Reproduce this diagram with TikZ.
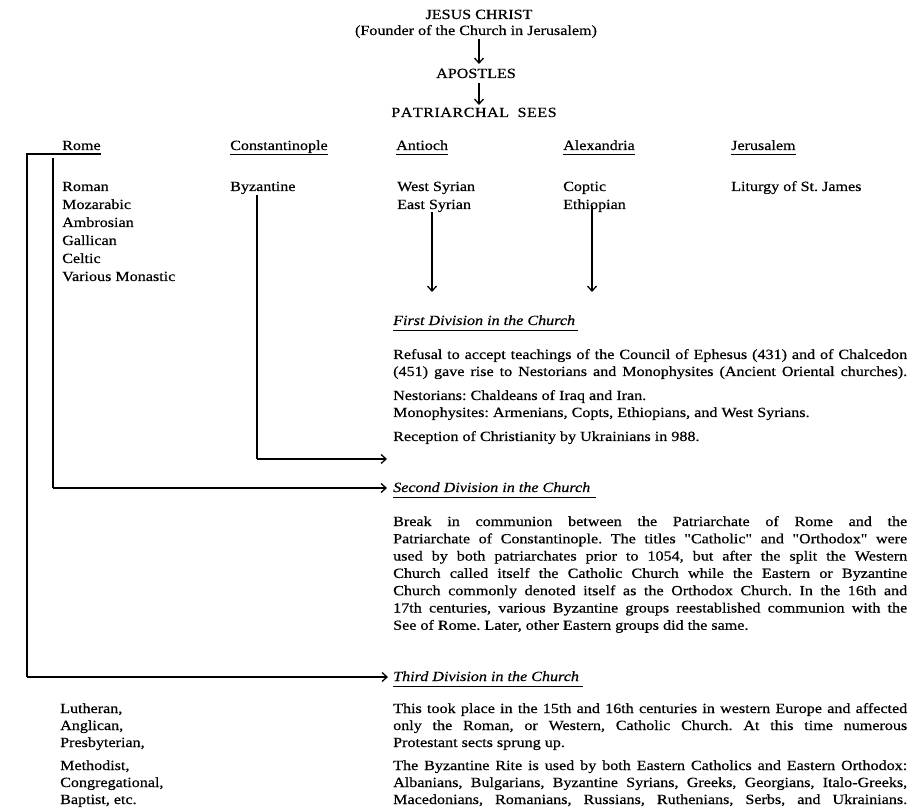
\documentclass[tikz,border=0pt]{standalone}
\usepackage{fontspec}
\setmainfont{Liberation Serif}[FakeStretch=1.15, FakeBold=0.5, Ligatures=TeXOff]
\usetikzlibrary{arrows.meta}
\tikzset{
  txt/.style={anchor=base west, inner sep=0pt, font=\fontsize{14}{17}\selectfont},
  ctr/.style={anchor=base, inner sep=0pt, font=\fontsize{14}{17}\selectfont},
  ttl/.style={txt, font=\fontsize{14}{17}\selectfont\itshape},
  conn/.style={line width=1.3pt},
  arr/.style={conn, -{Straight Barb[length=5pt,width=9pt]}},
  uline/.style={line width=0.9pt},
}
\newcommand{\jl}[1]{\makebox[514pt][s]{#1}}
\frenchspacing
\begin{document}
\begin{tikzpicture}[x=1pt,y=-1pt]
\frenchspacing
\useasboundingbox[fill=white] (0,0) rectangle (914,810);
% top
\node[ctr] (jc) at (479,19) {JESUS CHRIST};
\node[ctr] (founder) at (476,35) {(Founder of the Church in Jerusalem)};
\node[ctr] (ap) at (476,78) {APOSTLES};
\node[ctr] (ps) at (474,117) {P\kern0.5pt A\kern0.5pt T\kern0.5pt R\kern0.5pt I\kern0.5pt A\kern0.5pt R\kern0.5pt C\kern0.5pt H\kern0.5pt A\kern0.5pt L\kern0.5pt\ \ S\kern0.5pt E\kern0.5pt E\kern0.5pt S};
\coordinate (a1s) at (479,39);
\coordinate (a1e) at (479,64);
\coordinate (a2s) at (479,83);
\coordinate (a2e) at (479,105);
\draw[arr] (a1s) -- (a1e);
\draw[arr] (a2s) -- (a2e);
% headers
\node[txt] (hRome) at (62,150) {Rome};
\node[txt] (hConst) at (230,150) {Constantinople};
\node[txt] (hAnt) at (396,150) {Antioch};
\node[txt] (hAlex) at (563,150) {Alexandria};
\node[txt] (hJer) at (731,150) {Jerusalem};
\foreach \n in {hConst,hAnt,hAlex,hJer}
  \draw[uline] ([yshift=-4pt]\n.base west) -- ([yshift=-4pt]\n.base east);
% Rome list
\node[txt] (roman) at (62,191) {Roman};
\node[txt] (moz) at (62,209) {Mozarabic};
\node[txt] (amb) at (62,227) {Ambrosian};
\node[txt] (gal) at (62,245) {Gallican};
\node[txt] (cel) at (62,263) {Celtic};
\node[txt] (mon) at (62,281) {Various Monastic};
\node[txt] (byz) at (230,191) {Byzantine};
\node[txt] (wsyr) at (397,191) {West Syrian};
\node[txt] (esyr) at (397,209) {East Syrian};
\node[txt] (coptic) at (563,191) {Coptic};
\node[txt] (eth) at (563,209) {Ethiopian};
\node[txt] (stj) at (731,191) {Liturgy of St. James};
% first division
\node[ttl] (div1) at (393,325) {First Division in the Church};
\draw[uline] ([yshift=-5pt]div1.base west) -- ([yshift=-5pt,xshift=3pt]div1.base east);
\node[txt] (p1a) at (393,359) {\jl{Refusal to accept teachings of the Council of Ephesus (431) and of Chalcedon}};
\node[txt] (p1b) at (393,376) {\jl{(451) gave rise to Nestorians and Monophysites (Ancient Oriental churches).}};
\node[txt] (p2a) at (393,400) {Nestorians: Chaldeans of Iraq and Iran.};
\node[txt] (p2b) at (393,417) {Monophysites: Armenians, Copts, Ethiopians, and West Syrians.};
\node[txt] (p3) at (393,441) {Reception of Christianity by Ukrainians in 988.};
% second division
\node[ttl] (div2) at (393,492) {Second Division in the Church};
\draw[uline] ([yshift=-5pt]div2.base west) -- ([yshift=-5pt,xshift=6pt]div2.base east);
\node[txt] (q1) at (393,526) {\jl{Break in communion between the Patriarchate of Rome and the}};
\node[txt] (q2) at (393,543.3) {\jl{Patriarchate of Constantinople. The titles "Catholic" and "Orthodox" were}};
\node[txt] (q3) at (393,560.6) {\jl{used by both patriarchates prior to 1054, but after the split the Western}};
\node[txt] (q4) at (393,577.9) {\jl{Church called itself the Catholic Church while the Eastern or Byzantine}};
\node[txt] (q5) at (393,595.2) {\jl{Church commonly denoted itself as the Orthodox Church. In the 16th and}};
\node[txt] (q6) at (393,612.5) {\jl{17th centuries, various Byzantine groups reestablished communion with the}};
\node[txt] (q7) at (393,629.8) {See of Rome. Later, other Eastern groups did the same.};
% third division
\node[ttl] (div3) at (393,681) {Third Division in the Church};
\draw[uline] ([yshift=-5pt]div3.base west) -- ([yshift=-5pt,xshift=4pt]div3.base east);
\node[txt] (r1) at (393,713) {\jl{This took place in the 15th and 16th centuries in western Europe and affected}};
\node[txt] (r2) at (393,730) {\jl{only the Roman, or Western, Catholic Church. At this time numerous}};
\node[txt] (r3) at (393,747) {Protestant sects sprung up.};
\node[txt] (s1) at (393,770) {\jl{The Byzantine Rite is used by both Eastern Catholics and Eastern Orthodox:}};
\node[txt] (s2) at (393,787) {\jl{Albanians, Bulgarians, Byzantine Syrians, Greeks, Georgians, Italo-Greeks,}};
\node[txt] (s3) at (393,804) {\jl{Macedonians, Romanians, Russians, Ruthenians, Serbs, and Ukrainians.}};
% protestant list
\node[txt] (lut) at (60,713) {Lutheran,};
\node[txt] (ang) at (60,730) {Anglican,};
\node[txt] (pres) at (60,747) {Presbyterian,};
\node[txt] (meth) at (60,770) {Methodist,};
\node[txt] (cong) at (60,787) {Congregational,};
\node[txt] (bap) at (60,804) {Baptist, etc.};
% connectors
\coordinate (outerTop) at (27,154);
\coordinate (outerBot) at (27,677);
\coordinate (outerTip) at (388,677);
\draw[conn] ([yshift=-4pt]hRome.base east) -- (outerTop) -- (outerBot);
\draw[arr] (outerBot) -- (outerTip);
\coordinate (innerTop) at (53,158);
\coordinate (innerBot) at (53,488);
\coordinate (innerTip) at (387,488);
\draw[conn] (innerTop) -- (innerBot);
\draw[arr] (innerBot) -- (innerTip);
\coordinate (byzTop) at (257,195);
\coordinate (byzBot) at (257,459);
\coordinate (byzTip) at (387,459);
\draw[conn] (byzTop) -- (byzBot);
\draw[arr] (byzBot) -- (byzTip);
\coordinate (antS) at (432,212);
\coordinate (antE) at (432,292);
\coordinate (alxS) at (592,206);
\coordinate (alxE) at (592,292);
\draw[arr] (antS) -- (antE);
\draw[arr] (alxS) -- (alxE);
\end{tikzpicture}
\end{document}
